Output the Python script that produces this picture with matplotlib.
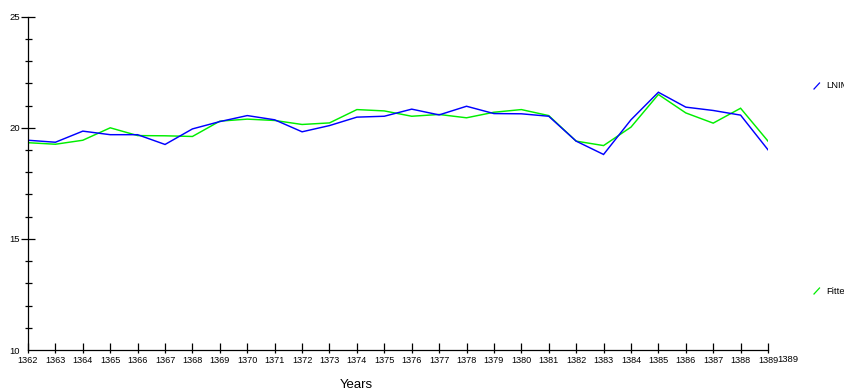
import matplotlib
matplotlib.use("Agg")
import matplotlib.pyplot as plt
from matplotlib.lines import Line2D
import numpy as np

plt.rcParams['font.family'] = ['Liberation Sans', 'DejaVu Sans']

years = list(range(1362, 1390))
lnim = [19.44, 19.35, 19.85, 19.69, 19.69, 19.25, 19.95, 20.28, 20.55, 20.36,
        19.82, 20.10, 20.48, 20.52, 20.84, 20.58, 20.97, 20.64, 20.63, 20.52,
        19.40, 18.80, 20.36, 21.60, 20.93, 20.78, 20.57, 19.01]
fitted = [19.33, 19.26, 19.44, 20.00, 19.65, 19.64, 19.61, 20.30, 20.39, 20.33,
          20.15, 20.22, 20.82, 20.76, 20.52, 20.60, 20.45, 20.70, 20.82, 20.55,
          19.40, 19.20, 20.03, 21.50, 20.67, 20.21, 20.88, 19.40]
series_names = ["LNIM", "Fitted"]
y_major = [10, 15, 20, 25]
x_label = "Years"

W, H = 845, 392
fig = plt.figure(figsize=(W / 100, H / 100), dpi=100)
ax = fig.add_axes([28 / W, 1 - 350 / H, (768 - 28) / W, (350 - 16.7) / H])

ax.plot(years, fitted, color='#00ee00', lw=1.05, solid_joinstyle='miter')
ax.plot(years, lnim, color='#0000ff', lw=1.05, solid_joinstyle='miter')

ax.set_xlim(years[0], years[-1])
ax.set_ylim(y_major[0], y_major[-1])
for s in ['top', 'right']:
    ax.spines[s].set_visible(False)
for s in ['left', 'bottom']:
    ax.spines[s].set_linewidth(0.9)

px = 72 / 100  # points per pixel
ax.set_yticks(y_major)
ax.set_yticklabels([str(v) for v in y_major])
ax.set_yticks(np.arange(10, 26, 1), minor=True)
ax.tick_params(axis='y', which='major', direction='inout', length=14 * px,
               width=0.9, labelsize=6.8, pad=1 * px)
ax.tick_params(axis='y', which='minor', direction='inout', length=7 * px, width=0.9)
ax.yaxis.get_major_ticks()[0].tick1line.set_visible(False)

ax.xaxis.remove_overlapping_locs = False
ax.set_xticks(years)
ax.set_xticklabels([str(y) for y in years])
ax.set_xticks(years, minor=True)
ax.tick_params(axis='x', which='major', direction='in', length=7 * px,
               width=0.9, labelsize=6.6, pad=6 * px)
ax.tick_params(axis='x', which='minor', direction='out', length=3 * px, width=0.9)

ax.annotate(str(years[-1]), xy=(years[-1], y_major[0]), xycoords='data',
            textcoords='offset pixels', xytext=(9, -9), ha='left', va='center',
            fontsize=6.8, annotation_clip=False)

fig.text(356 / W, 1 - 385 / H, x_label, ha='center', va='center', fontsize=9.5)

# legend entries at the right edge (clipped by the figure edge as in the reference)
for name, color, ypix in [(series_names[0], '#0000ff', 86), (series_names[1], '#00ee00', 291)]:
    fig.add_artist(Line2D([814 / W, 819.5 / W], [1 - (ypix + 3) / H, 1 - (ypix - 3) / H],
                          transform=fig.transFigure, color=color, lw=0.9))
    fig.text(826 / W, 1 - ypix / H, name, ha='left', va='center', fontsize=6.8)

fig.savefig("out.png", dpi=100)
